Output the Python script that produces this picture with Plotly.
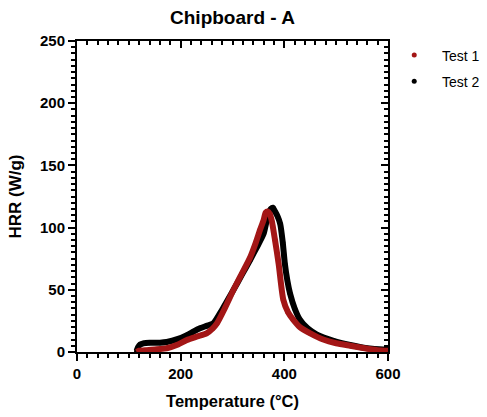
import plotly.graph_objects as go

# Data
t1_temp = [115, 120, 135, 150, 173, 195, 212, 232, 250, 262, 270, 285, 302, 318, 334, 345, 353, 360, 364, 368, 372, 376, 382, 389, 398, 407, 417, 430, 450, 475, 500, 527, 555, 580, 600]
t1_hrr  = [0, 1, 1.5, 2, 3, 6, 9.6, 12.5, 15, 19, 23, 35, 50, 63, 76, 88, 98, 106, 112, 113, 111, 105, 90, 71, 42, 32, 26, 20, 15, 10, 7, 5, 3, 1.5, 1]
t2_temp = [115, 118, 122, 128, 140, 160, 173, 195, 212, 225, 237, 250, 263, 280, 302, 318, 334, 348, 360, 369, 374, 378, 382, 387, 392, 397, 401, 406, 411, 420, 430, 445, 463, 495, 527, 560, 591, 600]
t2_hrr  = [1, 4, 6, 7, 7.5, 7.5, 8, 10.5, 13.6, 16.5, 19, 21, 23, 34, 50, 62, 74, 85, 95, 111, 115, 116, 113, 109, 103, 88, 71, 57, 47, 35, 26, 19, 14, 9, 5.6, 3, 2, 2]

series = [
    ("Test 1", t1_temp, t1_hrr, "#a31616"),
    ("Test 2", t2_temp, t2_hrr, "#000000"),
]

fig = go.Figure()
# marker traces (for legend), drawn underneath the thick lines
for name, xs, ys, col in series:
    fig.add_trace(go.Scatter(x=xs, y=ys, mode="markers", name="\u00a0\u00a0" + name, legendgroup=name,
                             marker=dict(color=col, size=5)))
# thick lines; Test 2 first so Test 1 (red) is on top
for name, xs, ys, col in reversed(series):
    fig.add_trace(go.Scatter(x=xs, y=ys, mode="lines", line=dict(color=col, width=6, shape="spline", smoothing=0.6),
                             showlegend=False, hoverinfo="skip"))

font_family = "Liberation Sans, Arial, sans-serif"

axis_common = dict(showgrid=False, zeroline=False, showline=True, linecolor="black", linewidth=2,
                   ticks="outside", tickcolor="black", tickwidth=2, ticklen=7)

fig.update_layout(
    width=487, height=417,
    margin=dict(l=77, r=99, t=41, b=65, autoexpand=False),
    paper_bgcolor="white", plot_bgcolor="white",
    font=dict(family=font_family, color="black"),
    title=dict(text="<b>Chipboard - A</b>", x=(77 + 155.5) / 487, xanchor="center", y=0.959, yanchor="middle",
               font=dict(size=19, color="black")),
    xaxis=dict(range=[0, 600], tickvals=[0, 200, 400, 600], ticktext=["<b>0</b>", "<b>200</b>", "<b>400</b>", "<b>600</b>"],
               tickfont=dict(size=15), title=dict(text="<b>Temperature (°C)</b>", font=dict(size=16.5), standoff=14),
               minor=dict(dtick=20, ticks="outside", ticklen=4, tickwidth=2, tickcolor="black"), **axis_common),
    yaxis=dict(range=[0, 250], tickvals=[0, 50, 100, 150, 200, 250],
               ticktext=["<b>0</b>", "<b>50</b>", "<b>100</b>", "<b>150</b>", "<b>200</b>", "<b>250</b>"],
               tickfont=dict(size=15), title=dict(text="<b>HRR (W/g)</b>", font=dict(size=17), standoff=14),
               minor=dict(dtick=5, ticks="outside", ticklen=4, tickwidth=2, tickcolor="black"), **axis_common),
    xaxis2=dict(range=[0, 600], overlaying="x", side="top", showticklabels=False, tickvals=[0, 200, 400, 600],
                showgrid=False, zeroline=False, showline=True, linecolor="black", linewidth=2,
                ticks="inside", tickcolor="black", tickwidth=2, ticklen=7,
                minor=dict(dtick=20, ticks="inside", ticklen=4, tickwidth=2, tickcolor="black")),
    yaxis2=dict(range=[0, 250], overlaying="y", side="right", showticklabels=False, tickvals=[0, 50, 100, 150, 200, 250],
                showgrid=False, zeroline=False, showline=True, linecolor="black", linewidth=2,
                ticks="inside", tickcolor="black", tickwidth=2, ticklen=7,
                minor=dict(dtick=5, ticks="inside", ticklen=4, tickwidth=2, tickcolor="black")),
    legend=dict(x=1.02, y=1.005, xanchor="left", yanchor="top", font=dict(size=14), traceorder="grouped",
                tracegroupgap=5, bgcolor="rgba(0,0,0,0)"),
)
# invisible helper trace so the mirrored axes are drawn
fig.add_trace(go.Scatter(x=[None], y=[None], xaxis="x2", yaxis="y2", showlegend=False, hoverinfo="skip"))

fig.write_html("out.html")
